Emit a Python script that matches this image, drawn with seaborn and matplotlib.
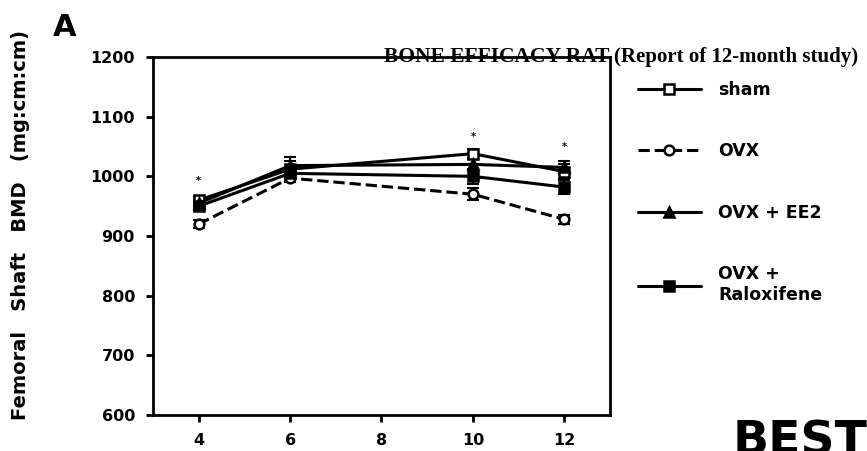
import matplotlib
matplotlib.use('Agg')  # no display
import matplotlib.pyplot as plt
import seaborn as sns

# months of treatment
months = [4, 6, 10, 12]

# femoral shaft BMD per group (mg/cm/cm)
sham = [960, 1012, 1038, 1008]
ovx = [920, 997, 970, 928]
ovx_ee2 = [955, 1018, 1020, 1015]
ovx_ralox = [950, 1005, 1000, 982]

# error bars
sham_err = [6, 20, 8, 12]
ovx_err = [6, 6, 10, 8]
ee2_err = [6, 8, 10, 10]
ralox_err = [6, 8, 12, 12]

# significance marks above some points
star_x = [4, 10, 12]
star_y = [992, 1066, 1050]

y_ticks = [600, 700, 800, 900, 1000, 1100, 1200]
x_ticks = [4, 6, 8, 10, 12]

sns.set_style('ticks')
plt.rcParams['font.family'] = ['DejaVu Sans']
plt.rcParams['text.color'] = 'black'
plt.rcParams['xtick.color'] = 'black'
plt.rcParams['ytick.color'] = 'black'

fig = plt.figure(figsize=(8.67, 4.51), dpi=100)
ax = fig.add_axes([0.1765, 0.0798, 0.527, 0.7938])

groups = [
    ('sham', sham, sham_err, 's', 'white', '-'),
    ('OVX', ovx, ovx_err, 'o', 'white', '--'),
    ('OVX + EE2', ovx_ee2, ee2_err, '^', 'black', '-'),
    ('OVX +\nRaloxifene', ovx_ralox, ralox_err, 's', 'black', '-'),
]

for label, vals, err, m, fc, ls in groups:
    ax.errorbar(months, vals, yerr=err, fmt='none', ecolor='black',
                elinewidth=1.5, capsize=4, capthick=1.5, zorder=2)
    sns.lineplot(x=months, y=vals, ax=ax, color='black', lw=2.2, ls=ls,
                 marker=m, ms=7, mfc=fc, mec='black', mew=1.8,
                 label=label, zorder=3)

for sx, sy in zip(star_x, star_y):
    ax.text(sx, sy, '*', ha='center', va='center', fontsize=7,
            fontweight='bold')

ax.set_xlim(3, 13)
ax.set_ylim(600, 1200)
ax.set_xticks(x_ticks)
ax.set_yticks(y_ticks)
ax.set_xlabel('')
ax.set_ylabel('')
for s in ax.spines.values():
    s.set_visible(True)
    s.set_linewidth(2)
    s.set_color('black')
ax.tick_params(axis='both', direction='out', length=5, width=2,
               labelsize=11.5, pad=8)
for t in ax.get_xticklabels() + ax.get_yticklabels():
    t.set_fontweight('bold')

# y label spans the whole figure height
fig.text(0.024, 0.50, 'Femoral   Shaft   BMD   (mg:cm:cm)', rotation=90,
         ha='center', va='center', fontsize=14, fontweight='bold')

# panel letter
fig.text(0.061, 0.94, 'A', fontsize=22, fontweight='bold', ha='left',
         va='center')

# title struck by the top spine
ax.text(1.0, 1.0, 'BONE EFFICACY RAT', transform=ax.transAxes, ha='right',
        va='center', fontsize=15.5, fontweight='bold', family='Liberation Serif',
        zorder=5)
ax.text(1.008, 1.0, '(Report of 12-month study)', transform=ax.transAxes,
        ha='left', va='center', fontsize=15, fontweight='bold',
        family='Liberation Serif', clip_on=False)

handles, labels = ax.get_legend_handles_labels()
ax.get_legend().remove()
fig.legend(handles, labels, loc='upper left', bbox_to_anchor=(0.718, 0.855),
           frameon=False, handlelength=3.6, labelspacing=2.5, handletextpad=1.0,
           prop=dict(weight='bold', size=12.5))

# cut-off stamp at the bottom edge of the scan
fig.text(0.845, -0.03, 'BEST', fontsize=34, fontweight='bold', ha='left',
         va='bottom')

fig.savefig('out.png', dpi=100)
plt.close(fig)
